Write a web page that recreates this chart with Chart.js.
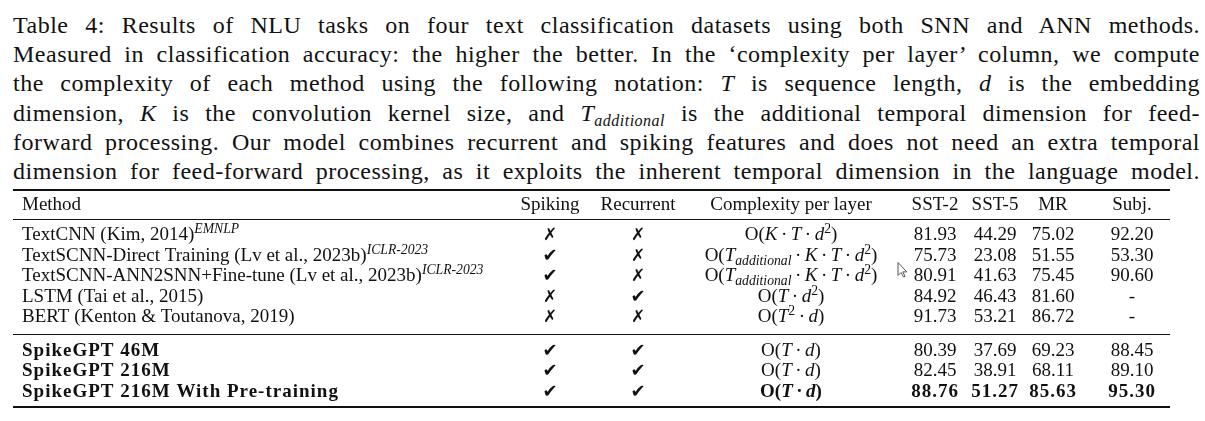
<!DOCTYPE html>
<html>
<head>
<meta charset="utf-8">
<script src="https://cdn.jsdelivr.net/npm/chart.js@4.4.1/dist/chart.umd.min.js"></script>
<style>
  html, body { margin: 0; padding: 0; background: #fff; }
  body { width: 1205px; height: 421px; position: relative; overflow: hidden; }
  #caption {
    position: absolute; left: 13px; top: 11px; width: 1187px;
    font-family: "Liberation Serif", serif; font-size: 24px; color: #111;
    letter-spacing: 0.5px;
  }
  #caption div {
    height: 29.2px; line-height: 29.2px;
    text-align: justify; text-align-last: justify;
  }
  #caption sub {
    font-size: 16px; vertical-align: baseline; position: relative; top: 5px; font-style: italic;
  }
  #table { position: absolute; left: 0; top: 180px; }
</style>
</head>
<body>
<div id="caption">
  <div>Table 4: Results of NLU tasks on four text classification datasets using both SNN and ANN methods.</div>
  <div>Measured in classification accuracy: the higher the better. In the ‘complexity per layer’ column, we compute</div>
  <div>the complexity of each method using the following notation: <i>T</i> is sequence length, <i>d</i> is the embedding</div>
  <div>dimension, <i>K</i> is the convolution kernel size, and <i>T</i><sub>additional</sub> is the additional temporal dimension for feed-</div>
  <div>forward processing. Our model combines recurrent and spiking features and does not need an extra temporal</div>
  <div>dimension for feed-forward processing, as it exploits the inherent temporal dimension in the language model.</div>
</div>
<canvas id="table" width="1205" height="235"></canvas>
<script>
(() => {
  "use strict";

  // Table data
  const headers = ["Method", "Spiking", "Recurrent", "Complexity per layer", "SST-2", "SST-5", "MR", "Subj."];
  const methods = [
    "TextCNN (Kim, 2014)^{EMNLP}",
    "TextSCNN-Direct Training (Lv et al., 2023b)^{ICLR-2023}",
    "TextSCNN-ANN2SNN+Fine-tune (Lv et al., 2023b)^{ICLR-2023}",
    "LSTM (Tai et al., 2015)",
    "BERT (Kenton & Toutanova, 2019)",
    "SpikeGPT 46M",
    "SpikeGPT 216M",
    "SpikeGPT 216M With Pre-training",
  ];
  const spiking = [false, true, true, false, false, true, true, true];
  const recurrent = [false, false, false, true, false, true, true, true];
  const complexity = [
    "O(K·T·d^{2})",
    "O(T_{additional}·K·T·d^{2})",
    "O(T_{additional}·K·T·d^{2})",
    "O(T·d^{2})",
    "O(T^{2}·d)",
    "O(T·d)",
    "O(T·d)",
    "O(T·d)",
  ];
  const sst2 = [81.93, 75.73, 80.91, 84.92, 91.73, 80.39, 82.45, 88.76];
  const sst5 = [44.29, 23.08, 41.63, 46.43, 53.21, 37.69, 38.91, 51.27];
  const mr = [75.02, 51.55, 75.45, 81.60, 86.72, 69.23, 68.11, 85.63];
  const subj = [92.20, 53.30, 90.60, null, null, 88.45, 89.10, 95.30];
  const oursRows = [5, 6, 7];
  const bestRow = 7;

  // Layout (page pixels)
  const CANVAS_TOP = 180;
  const CANVAS_H = 235;
  const ROW_PITCH = 20.5;
  const FIRST_BASELINE = 240;
  const GROUP2_BASELINE = 355.5;
  const HEADER_BASELINE = 210;
  const colX = [22, 550, 638, 791, 935, 995, 1053, 1132];
  const colAlign = ["left", "center", "center", "center", "center", "center", "center", "center"];
  const ruleLeft = 13, ruleRight = 1170;
  const rules = [
    { at: 190, w: 2 },
    { at: 219.5, w: 1 },
    { at: 334.5, w: 1 },
    { at: 407, w: 2 },
  ];

  const toRow = (py) => (py - FIRST_BASELINE) / ROW_PITCH;
  const groupShift = toRow(GROUP2_BASELINE) - 5;
  const rowPos = (i) => i + (i >= 5 ? groupShift : 0);
  const headerPos = toRow(HEADER_BASELINE);
  const yMin = toRow(CANVAS_TOP);
  const yMax = yMin + CANVAS_H / ROW_PITCH;

  const FONT = '"Liberation Serif", serif';
  const SIZE = 19;
  const INK = "#111";

  const fmt = (v) => (v === null ? "-" : v.toFixed(2));
  const columns = [
    methods,
    spiking.map((s) => (s ? "✔" : "✗")),
    recurrent.map((s) => (s ? "✔" : "✗")),
    complexity,
    sst2.map(fmt),
    sst5.map(fmt),
    mr.map(fmt),
    subj.map(fmt),
  ];
  const kinds = ["text", "mark", "mark", "math", "text", "text", "text", "text"];

  // split "abc^{sup}_{sub}" into styled pieces
  function parseRich(str, math) {
    const segs = [];
    let i = 0;
    while (i < str.length) {
      const c = str[i];
      if ((c === "^" || c === "_") && str[i + 1] === "{") {
        const end = str.indexOf("}", i);
        const inner = str.slice(i + 2, end);
        segs.push({ t: inner, level: c === "^" ? 1 : -1, italic: /[A-Za-z]/.test(inner) });
        i = end + 1;
        continue;
      }
      if (math) {
        if (c === "·") segs.push({ t: "·", gap: 3.5 });
        else if (/[A-Za-z]/.test(c) && !(c === "O" && str[i + 1] === "(")) segs.push({ t: c, italic: true });
        else segs.push({ t: c });
      } else {
        const last = segs[segs.length - 1];
        if (last && !last.level) last.t += c;
        else segs.push({ t: c });
      }
      i++;
    }
    return segs;
  }

  function segFont(seg, bold) {
    const size = seg.level ? SIZE * 0.72 : SIZE;
    return (seg.italic ? "italic " : "") + (bold ? "bold " : "") + size + "px " + FONT;
  }

  function drawRich(ctx, str, px, py, align, math, bold) {
    const segs = parseRich(str, math);
    ctx.letterSpacing = bold && !math ? "1px" : "0px";
    let total = 0;
    segs.forEach((s) => {
      ctx.font = segFont(s, bold);
      s.w = ctx.measureText(s.t).width + (s.gap || 0) * 2;
      total += s.w;
    });
    let cx = align === "left" ? px : px - total / 2;
    segs.forEach((s) => {
      ctx.font = segFont(s, bold);
      const dy = s.level === 1 ? -7 : s.level === -1 ? 4 : 0;
      ctx.fillText(s.t, cx + (s.gap || 0), py + dy);
      cx += s.w;
    });
    ctx.letterSpacing = "0px";
  }

  const tablePlugin = {
    id: "tableText",
    afterDatasetsDraw(chart) {
      const ctx = chart.ctx;
      const xs = chart.scales.x;
      const ys = chart.scales.y;
      ctx.save();
      ctx.fillStyle = INK;
      ctx.textBaseline = "alphabetic";
      ctx.textAlign = "left";

      // booktabs rules
      rules.forEach((r) => {
        const yy = ys.getPixelForValue(toRow(r.at));
        ctx.fillRect(xs.getPixelForValue(ruleLeft), yy - r.w / 2, xs.getPixelForValue(ruleRight) - xs.getPixelForValue(ruleLeft), r.w);
      });

      chart.data.datasets.forEach((ds, j) => {
        const meta = chart.getDatasetMeta(j);
        meta.data.forEach((pt, k) => {
          const txt = ds.cells[k];
          if (k === 0) {
            drawRich(ctx, txt, pt.x, pt.y, colAlign[j], false, false);
            return;
          }
          const row = k - 1;
          if (ds.kind === "mark") {
            ctx.font = (txt === "✔" ? "18px" : "bold 17px") + " 'DejaVu Sans'";
            const w = ctx.measureText(txt).width;
            ctx.fillText(txt, pt.x - w / 2, pt.y);
          } else {
            const bold = j === 0 ? oursRows.includes(row) : row === bestRow;
            drawRich(ctx, txt, pt.x, pt.y, colAlign[j], ds.kind === "math", bold);
          }
        });
      });

      // stray mouse pointer in the screenshot
      const tx = xs.getPixelForValue(898), ty = ys.getPixelForValue(toRow(262.5));
      ctx.beginPath();
      ctx.moveTo(tx, ty);
      ctx.lineTo(tx, ty + 13);
      ctx.lineTo(tx + 3, ty + 10);
      ctx.lineTo(tx + 5.5, ty + 14.5);
      ctx.lineTo(tx + 7, ty + 13.8);
      ctx.lineTo(tx + 4.8, ty + 9.4);
      ctx.lineTo(tx + 8.8, ty + 9.4);
      ctx.closePath();
      ctx.fillStyle = "#fff";
      ctx.fill();
      ctx.strokeStyle = "#555";
      ctx.lineWidth = 1;
      ctx.stroke();
      ctx.restore();
    },
  };

  const datasets = headers.map((h, j) => ({
    label: h,
    kind: kinds[j],
    cells: [h].concat(columns[j]),
    data: [{ x: colX[j], y: headerPos }].concat(columns[j].map((_, i) => ({ x: colX[j], y: rowPos(i) }))),
    pointRadius: 0,
    showLine: false,
  }));

  // eslint-disable-next-line no-unused-vars
  const tableChart = new Chart(document.getElementById("table"), {
    type: "scatter",
    data: { datasets },
    options: {
      responsive: false,
      animation: false,
      events: [],
      layout: { padding: 0 },
      plugins: { legend: { display: false }, tooltip: { enabled: false } },
      scales: {
        x: { type: "linear", min: 0, max: 1205, display: false },
        y: { type: "linear", min: yMin, max: yMax, reverse: true, display: false },
      },
    },
    plugins: [tablePlugin],
  });
})();
</script>
</body>
</html>
